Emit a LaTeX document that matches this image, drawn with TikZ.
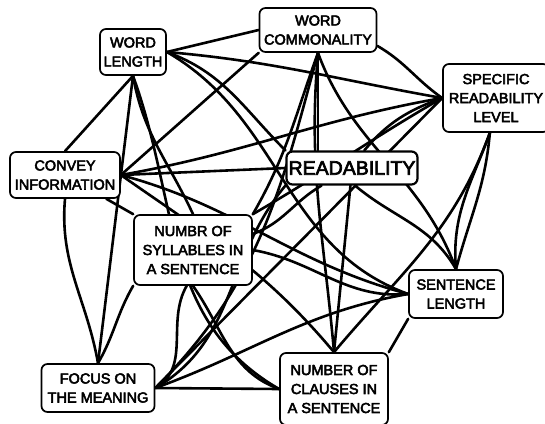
\documentclass[tikz,border=0pt]{standalone}
\usepackage{fontspec}
\setmainfont{Liberation Sans}
\newfontfamily\lblfont[FakeBold=3.5]{Liberation Sans}
\pgfdeclarelayer{bg}
\pgfsetlayers{bg,main}
\begin{document}
\begin{tikzpicture}[x=1pt,y=1pt,
  box/.style={draw, line width=1.7pt, rounded corners=6pt, fill=white, align=center,
    font=\lblfont\fontsize{14.5}{19}\selectfont, inner sep=2pt},
  link/.style={line width=2.6pt, line cap=round}]
\useasboundingbox (0,0) rectangle (545,-423);
\node[box, minimum width=66, minimum height=46] (wl) at (133,-52) {WORD\\LENGTH};
\node[box, minimum width=117, minimum height=44] (wc) at (318,-30) {WORD\\COMMONALITY};
\node[box, minimum width=106, minimum height=68] (sr) at (496,-98) {SPECIFIC\\READABILITY\\LEVEL};
\node[box, minimum width=131, minimum height=33, font=\lblfont\fontsize{19.5}{22}\selectfont, line width=2.2pt] (r) at (352,-168) {READABILITY};
\node[box, minimum width=110, minimum height=46] (ci) at (65,-175) {CONVEY\\INFORMATION};
\node[box, minimum width=118, minimum height=70] (ns) at (193,-250) {NUMBR OF\\SYLLABLES IN\\A SENTENCE};
\node[box, minimum width=94, minimum height=48] (sl) at (456,-294) {SENTENCE\\LENGTH};
\node[box, minimum width=113, minimum height=48] (fm) at (98,-388) {FOCUS ON\\THE MEANING};
\node[box, minimum width=108, minimum height=72] (nc) at (334,-389) {NUMBER OF\\CLAUSES IN\\A SENTENCE};
\begin{pgfonlayer}{bg}
% word length
\draw[link] (wl.east) -- (wc.west);
\draw[link] (wl.east) to[out=-5, in=170] (sr.west);
\draw[link] (wl.east) to[out=-20, in=135] (r.north west);
\draw[link] (wl.east) to[out=-30, in=160] (sl.west);
\draw[link] (wl.south) -- (ci.north);
\draw[link] (wl.south) to[out=-80, in=115] (ns.north);
\draw[link] (wl.south) -- (fm.north);
\draw[link] (wl.south) to[out=-70, in=150] (nc.west);
% word commonality
\draw[link] (wc.-15) to[out=-30, in=145] (sr.west);
\draw[link] (wc.south) -- (wc.south |- r.north);
\draw[link] (wc.south west) -- (ci.east);
\draw[link] (wc.south) to[out=-110, in=60] (ns.north east);
\draw[link] (wc.south) to[out=-70, in=110] (sl.north);
\draw[link] (wc.south) to[out=-105, in=45] (fm.east);
\draw[link] (wc.south) to[out=-95, in=95] (nc.north);
% specific readability
\draw[link] (sr.west) to[out=200, in=50] (r.55);
\draw[link] (sr.west) to[out=190, in=10] (ci.east);
\draw[link] (sr.west) to[out=210, in=30] (ns.north east);
\draw[link] (sr.-100) to[out=-95, in=75] (sl.north);
\draw[link] (sr.-100) to[out=-110, in=95] (sl.north);
\draw[link] (sr.west) -- (fm.east);
\draw[link] (sr.-100) to[out=-110, in=50] (nc.north);
% readability
\draw[link] (r.west) -- (ci.east);
\draw[link] (r.-150) to[out=-150, in=20] (ns.15);
\draw[link] (r.-80) to[out=-40, in=120] (sl.north);
\draw[link] (r.south west) to[out=-130, in=30] (fm.east);
\draw[link] (r.-95) -- (nc.north);
% convey information
\draw[link] (ci.-30) -- (ns.north west);
\draw[link] (ci.east) to[out=-15, in=165] (sl.west);
\draw[link] (ci.south) to[out=-95, in=100] (fm.north);
\draw[link] (ci.east) to[out=-35, in=130] (nc.north);
% syllables
\draw[link] (ns.east) to[out=-10, in=185] (sl.west);
\draw[link] (ns.south west) to[out=-120, in=60] (fm.north);
\draw[link] (ns.-100) to[out=-120, in=30] (fm.east);
\draw[link] (ns.south) to[out=-55, in=160] (nc.west);
% sentence length
\draw[link] (sl.west) to[out=190, in=20] (fm.east);
\draw[link] (sl.south west) -- (nc.north east);
% focus
\draw[link] (fm.east) -- (nc.west);
\end{pgfonlayer}
\end{tikzpicture}
\end{document}
